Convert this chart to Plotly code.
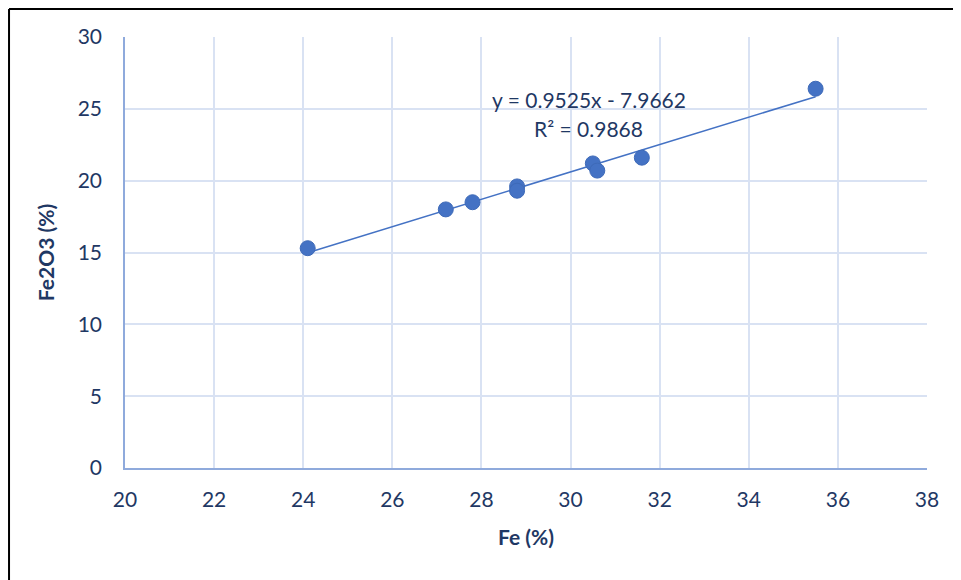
import numpy as np
import plotly.graph_objects as go

fe = [24.1, 27.2, 27.8, 28.8, 28.8, 30.5, 30.6, 31.6, 35.5]
fe2o3 = [15.3, 18.0, 18.5, 19.6, 19.3, 21.2, 20.7, 21.6, 26.4]
slope = 0.9525
intercept = -7.9662
eq_text = "y = 0.9525x - 7.9662"
r2_text = "R² = 0.9868"
x_ticks = [20, 22, 24, 26, 28, 30, 32, 34, 36, 38]
y_ticks = [0, 5, 10, 15, 20, 25, 30]

txt = "#1F3864"
font = "Lato"

xl = [min(fe), max(fe)]
yl = [slope * v + intercept for v in xl]

fig = go.Figure()
fig.add_trace(go.Scatter(x=xl, y=yl, mode="lines",
                         line=dict(color="#4472C4", width=1.5), showlegend=False))
fig.add_trace(go.Scatter(x=fe, y=fe2o3, mode="markers",
                         marker=dict(size=15, color="#4472C4",
                                     line=dict(color="#3E6AB8", width=1)),
                         showlegend=False))

fig.add_annotation(x=30.41, y=25.68, text=eq_text, showarrow=False,
                   font=dict(family=font, size=21, color=txt), xref="x", yref="y")
fig.add_annotation(x=30.41, y=23.66, text=r2_text, showarrow=False,
                   font=dict(family=font, size=21, color=txt), xref="x", yref="y")

# outer frame (top and left edges)
fig.add_shape(type="line", xref="paper", yref="paper", x0=-0.1446, x1=1.06,
              y0=1.065, y1=1.065, line=dict(color="black", width=2))
fig.add_shape(type="line", xref="paper", yref="paper", x0=-0.1446, x1=-0.1446,
              y0=1.065, y1=-0.3, line=dict(color="black", width=2))

fig.update_xaxes(range=[20, 38], tickvals=x_ticks, showgrid=True, gridcolor="#D9E2F3",
                 gridwidth=1.5, zeroline=False, showline=True, linecolor="#8FAADC",
                 linewidth=1.5, ticks="", tickfont=dict(family=font, size=21, color=txt),
                 ticklabelstandoff=12,
                 title=dict(text="<b>Fe (%)</b>", font=dict(family=font, size=21, color=txt),
                            standoff=20))
fig.update_yaxes(range=[0, 30], tickvals=y_ticks, showgrid=True, gridcolor="#D9E2F3",
                 gridwidth=1.5, zeroline=False, showline=True, linecolor="#8FAADC",
                 linewidth=1.5, ticks="", tickfont=dict(family=font, size=21, color=txt),
                 ticklabelstandoff=17,
                 title=dict(text="<b>Fe2O3 (%)</b>", font=dict(family=font, size=21, color=txt),
                            standoff=17))

fig.update_layout(width=953, height=572, margin=dict(l=117, r=34, t=29, b=112),
                  plot_bgcolor="white", paper_bgcolor="white")
fig.write_html("out.html")
